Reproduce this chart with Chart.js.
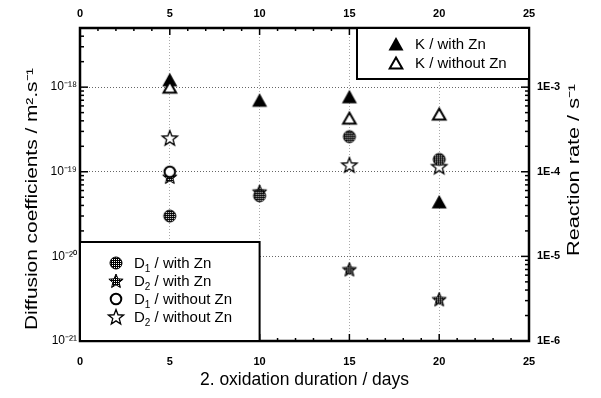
<!DOCTYPE html>
<html>
<head>
<meta charset="utf-8">
<script src="https://cdn.jsdelivr.net/npm/chart.js@4"></script>
<style>
  body { margin: 0; background: #fff; }
  canvas { display: block; }
</style>
</head>
<body>
<canvas id="chart" width="601" height="398"></canvas>
<script>
// values
const days = [5, 10, 15, 20];
const kWithZn = [1.22e-3, 7.0e-4, 7.7e-4, 4.4e-5];
const kWithoutZn = [1.0e-3, null, 4.3e-4, 4.8e-4];
const d1WithZn = [3.0e-20, 5.2e-20, 2.6e-19, 1.4e-19];
const d1WithoutZn = [1.0e-19, null, null, null];
const d2WithZn = [8.7e-20, 5.8e-20, 7.0e-21, 3.1e-21];
const d2WithoutZn = [2.5e-19, null, 1.2e-19, 1.15e-19];

const dTicks = [1e-21, 1e-20, 1e-19, 1e-18];
const dTickLabels = ['10⁻²¹', '10⁻²⁰', '10⁻¹⁹', '10⁻¹⁸'];
const kTicks = [1e-6, 1e-5, 1e-4, 1e-3];
const kTickLabels = ['1E-6', '1E-5', '1E-4', '1E-3'];

const FONT = "'Liberation Sans', Arial, sans-serif";

function points(arr) {
  return days.map((d, i) => ({ x: d, y: arr[i] })).filter(p => p.y !== null);
}

// marker images
function dotPattern(g) {
  const p = document.createElement('canvas');
  p.width = p.height = 2;
  const pg = p.getContext('2d');
  pg.fillStyle = '#000';
  pg.fillRect(0, 0, 2, 2);
  pg.fillStyle = '#fff';
  pg.fillRect(0, 0, 1, 1);
  return g.createPattern(p, 'repeat');
}

function starPath(g, cx, cy, R, r) {
  g.beginPath();
  for (let i = 0; i < 10; i++) {
    const a = -Math.PI / 2 + i * Math.PI / 5;
    const rad = i % 2 ? r : R;
    const px = cx + rad * Math.cos(a), py = cy + rad * Math.sin(a);
    if (i === 0) g.moveTo(px, py); else g.lineTo(px, py);
  }
  g.closePath();
}

function marker(kind) {
  const c = document.createElement('canvas');
  c.width = c.height = 20;
  const g = c.getContext('2d');
  g.strokeStyle = '#000';
  if (kind === 'triFilled') {
    g.beginPath();
    g.moveTo(10, 3); g.lineTo(17.5, 16.5); g.lineTo(2.5, 16.5); g.closePath();
    g.fillStyle = '#000';
    g.fill();
  } else if (kind === 'triOpen') {
    g.beginPath();
    g.moveTo(10, 4.5); g.lineTo(16.3, 15.5); g.lineTo(3.7, 15.5); g.closePath();
    g.fillStyle = '#fff';
    g.fill();
    g.lineWidth = 2;
    g.stroke();
  } else if (kind === 'circDotted') {
    g.beginPath();
    g.arc(10, 10, 6, 0, Math.PI * 2);
    g.fillStyle = dotPattern(g);
    g.fill();
    g.lineWidth = 1;
    g.stroke();
  } else if (kind === 'circOpen') {
    g.beginPath();
    g.arc(10, 10, 5.3, 0, Math.PI * 2);
    g.fillStyle = '#fff';
    g.fill();
    g.lineWidth = 2;
    g.stroke();
  } else if (kind === 'starDotted') {
    starPath(g, 10, 10.5, 7.5, 3.3);
    g.fillStyle = dotPattern(g);
    g.fill();
    g.lineWidth = 1;
    g.stroke();
  } else if (kind === 'starOpen') {
    starPath(g, 10, 10.5, 8, 3.4);
    g.fillStyle = '#fff';
    g.fill();
    g.lineWidth = 1.3;
    g.stroke();
  }
  return c;
}

const mk = {
  triFilled: marker('triFilled'),
  triOpen: marker('triOpen'),
  circDotted: marker('circDotted'),
  circOpen: marker('circOpen'),
  starDotted: marker('starDotted'),
  starOpen: marker('starOpen')
};

// ticks, frame, vertical titles and the two legend boxes
const framePlugin = {
  id: 'frame',
  afterDraw(chart) {
    const { ctx, chartArea: a, scales } = chart;
    ctx.save();
    ctx.strokeStyle = '#000';
    ctx.lineWidth = 1.5;
    const line = (x1, y1, x2, y2) => {
      ctx.beginPath(); ctx.moveTo(x1, y1); ctx.lineTo(x2, y2); ctx.stroke();
    };
    for (let v = 1; v < 25; v++) {
      const px = scales.x.getPixelForValue(v);
      const len = v % 5 === 0 ? 7 : 3;
      line(px, a.bottom, px, a.bottom - len);
      line(px, a.top, px, a.top + len);
    }
    const logTicks = (scale, x, dir) => {
      for (let d = -22; d <= 0; d++) {
        for (let m = 1; m <= 9; m++) {
          const val = m * Math.pow(10, d);
          if (val < scale.min * 0.999 || val > scale.max * 1.001) continue;
          const py = scale.getPixelForValue(val);
          const len = m === 1 ? 8 : 4;
          line(x, py, x + dir * len, py);
        }
      }
    };
    logTicks(scales.y, a.left, 1);
    logTicks(scales.y2, a.right, -1);

    ctx.lineWidth = 2.5;
    ctx.strokeRect(a.left, a.top, a.right - a.left, a.bottom - a.top);

    // vertical axis titles, both reading upwards, stretched along the text like the original
    const vTitle = (text, cx, cy, len) => {
      ctx.save();
      ctx.translate(cx, cy);
      ctx.rotate(-Math.PI / 2);
      ctx.font = '16px ' + FONT;
      ctx.fillStyle = '#000';
      ctx.textAlign = 'center';
      ctx.textBaseline = 'middle';
      ctx.scale(len / ctx.measureText(text).width, 1);
      ctx.fillText(text, 0, 0);
      ctx.restore();
    };
    vTitle('Diffusion coefficients / m².s⁻¹', 33, 199, 262);
    vTitle('Reaction rate / s⁻¹', 575, 170, 172);

    // legend boxes
    const drawEntry = (img, mx, tx, y, parts) => {
      ctx.drawImage(img, mx - 10, y - 10);
      ctx.fillStyle = '#000';
      ctx.textAlign = 'left';
      ctx.textBaseline = 'alphabetic';
      let x = tx;
      const base = y + 5;
      parts.forEach(p => {
        ctx.font = p.sub ? '10px ' + FONT : '15px ' + FONT;
        const dy = p.sub ? 4 : 0;
        ctx.fillText(p.t, x, base + dy);
        x += ctx.measureText(p.t).width;
      });
    };

    ctx.lineWidth = 2;
    const b1 = { l: a.right - 172, t: a.top, r: a.right, b: a.top + 51 };
    ctx.fillStyle = '#fff';
    ctx.fillRect(b1.l, b1.t, b1.r - b1.l, b1.b - b1.t);
    ctx.strokeRect(b1.l, b1.t, b1.r - b1.l, b1.b - b1.t);
    drawEntry(mk.triFilled, b1.l + 39, b1.l + 58, 44, [{ t: 'K / with Zn' }]);
    drawEntry(mk.triOpen, b1.l + 39, b1.l + 58, 63, [{ t: 'K / without Zn' }]);

    const b2 = { l: a.left, t: a.bottom - 99, r: scales.x.getPixelForValue(10), b: a.bottom };
    ctx.fillStyle = '#fff';
    ctx.fillRect(b2.l, b2.t, b2.r - b2.l, b2.b - b2.t);
    ctx.strokeRect(b2.l, b2.t, b2.r - b2.l, b2.b - b2.t);
    drawEntry(mk.circDotted, a.left + 36, a.left + 54, 263, [{ t: 'D' }, { t: '1', sub: true }, { t: ' / with Zn' }]);
    drawEntry(mk.starDotted, a.left + 36, a.left + 54, 281, [{ t: 'D' }, { t: '2', sub: true }, { t: ' / with Zn' }]);
    drawEntry(mk.circOpen, a.left + 36, a.left + 54, 299, [{ t: 'D' }, { t: '1', sub: true }, { t: ' / without Zn' }]);
    drawEntry(mk.starOpen, a.left + 36, a.left + 54, 317, [{ t: 'D' }, { t: '2', sub: true }, { t: ' / without Zn' }]);
    ctx.restore();
  }
};

const ctx = document.getElementById('chart').getContext('2d');
new Chart(ctx, {
  type: 'scatter',
  data: {
    datasets: [
      { label: 'K / without Zn', data: points(kWithoutZn), yAxisID: 'y2', pointStyle: mk.triOpen },
      { label: 'K / with Zn', data: points(kWithZn), yAxisID: 'y2', pointStyle: mk.triFilled },
      { label: 'D1 / with Zn', data: points(d1WithZn), yAxisID: 'y', pointStyle: mk.circDotted },
      { label: 'D1 / without Zn', data: points(d1WithoutZn), yAxisID: 'y', pointStyle: mk.circOpen },
      { label: 'D2 / with Zn', data: points(d2WithZn), yAxisID: 'y', pointStyle: mk.starDotted },
      { label: 'D2 / without Zn', data: points(d2WithoutZn), yAxisID: 'y', pointStyle: mk.starOpen }
    ]
  },
  options: {
    responsive: false,
    animation: false,
    devicePixelRatio: 1,
    layout: { padding: { left: 20, right: 13, top: 0, bottom: 3 } },
    plugins: { legend: { display: false }, tooltip: { enabled: false } },
    scales: {
      x: {
        type: 'linear', position: 'bottom', min: 0, max: 25,
        ticks: { stepSize: 5, color: '#000', padding: 14, font: { family: FONT, size: 11, weight: 'bold' } },
        grid: { drawTicks: false, color: c => (c.tick && (c.tick.value === 0 || c.tick.value === 25)) ? 'rgba(0,0,0,0)' : '#aaa' },
        border: { display: false, dash: [1, 2] },
        title: { display: true, text: '2. oxidation duration / days', color: '#000', font: { family: FONT, size: 17.5 } },
        afterFit: s => { s.height = 54; }
      },
      x2: {
        type: 'linear', position: 'top', min: 0, max: 25,
        ticks: { stepSize: 5, color: '#000', padding: 7, font: { family: FONT, size: 11, weight: 'bold' } },
        grid: { display: false, drawTicks: false },
        border: { display: false },
        afterFit: s => { s.height = 28; }
      },
      y: {
        type: 'logarithmic', position: 'left', min: 1e-21, max: 5e-18,
        afterBuildTicks: s => { s.ticks = dTicks.map(v => ({ value: v })); },
        ticks: { color: '#000', padding: 3, font: { family: FONT, size: 12 }, callback: (v, i) => dTickLabels[i] },
        grid: { drawTicks: false, color: '#666' },
        border: { display: false, dash: [1, 2] },
        afterFit: s => { s.width = 60; }
      },
      y2: {
        type: 'logarithmic', position: 'right', min: 1e-6, max: 5e-3,
        afterBuildTicks: s => { s.ticks = kTicks.map(v => ({ value: v })); },
        ticks: { color: '#000', padding: 8, font: { family: FONT, size: 11, weight: 'bold' }, callback: (v, i) => kTickLabels[i] },
        grid: { display: false, drawTicks: false },
        border: { display: false },
        afterFit: s => { s.width = 59; }
      }
    }
  },
  plugins: [framePlugin]
});
</script>
</body>
</html>
